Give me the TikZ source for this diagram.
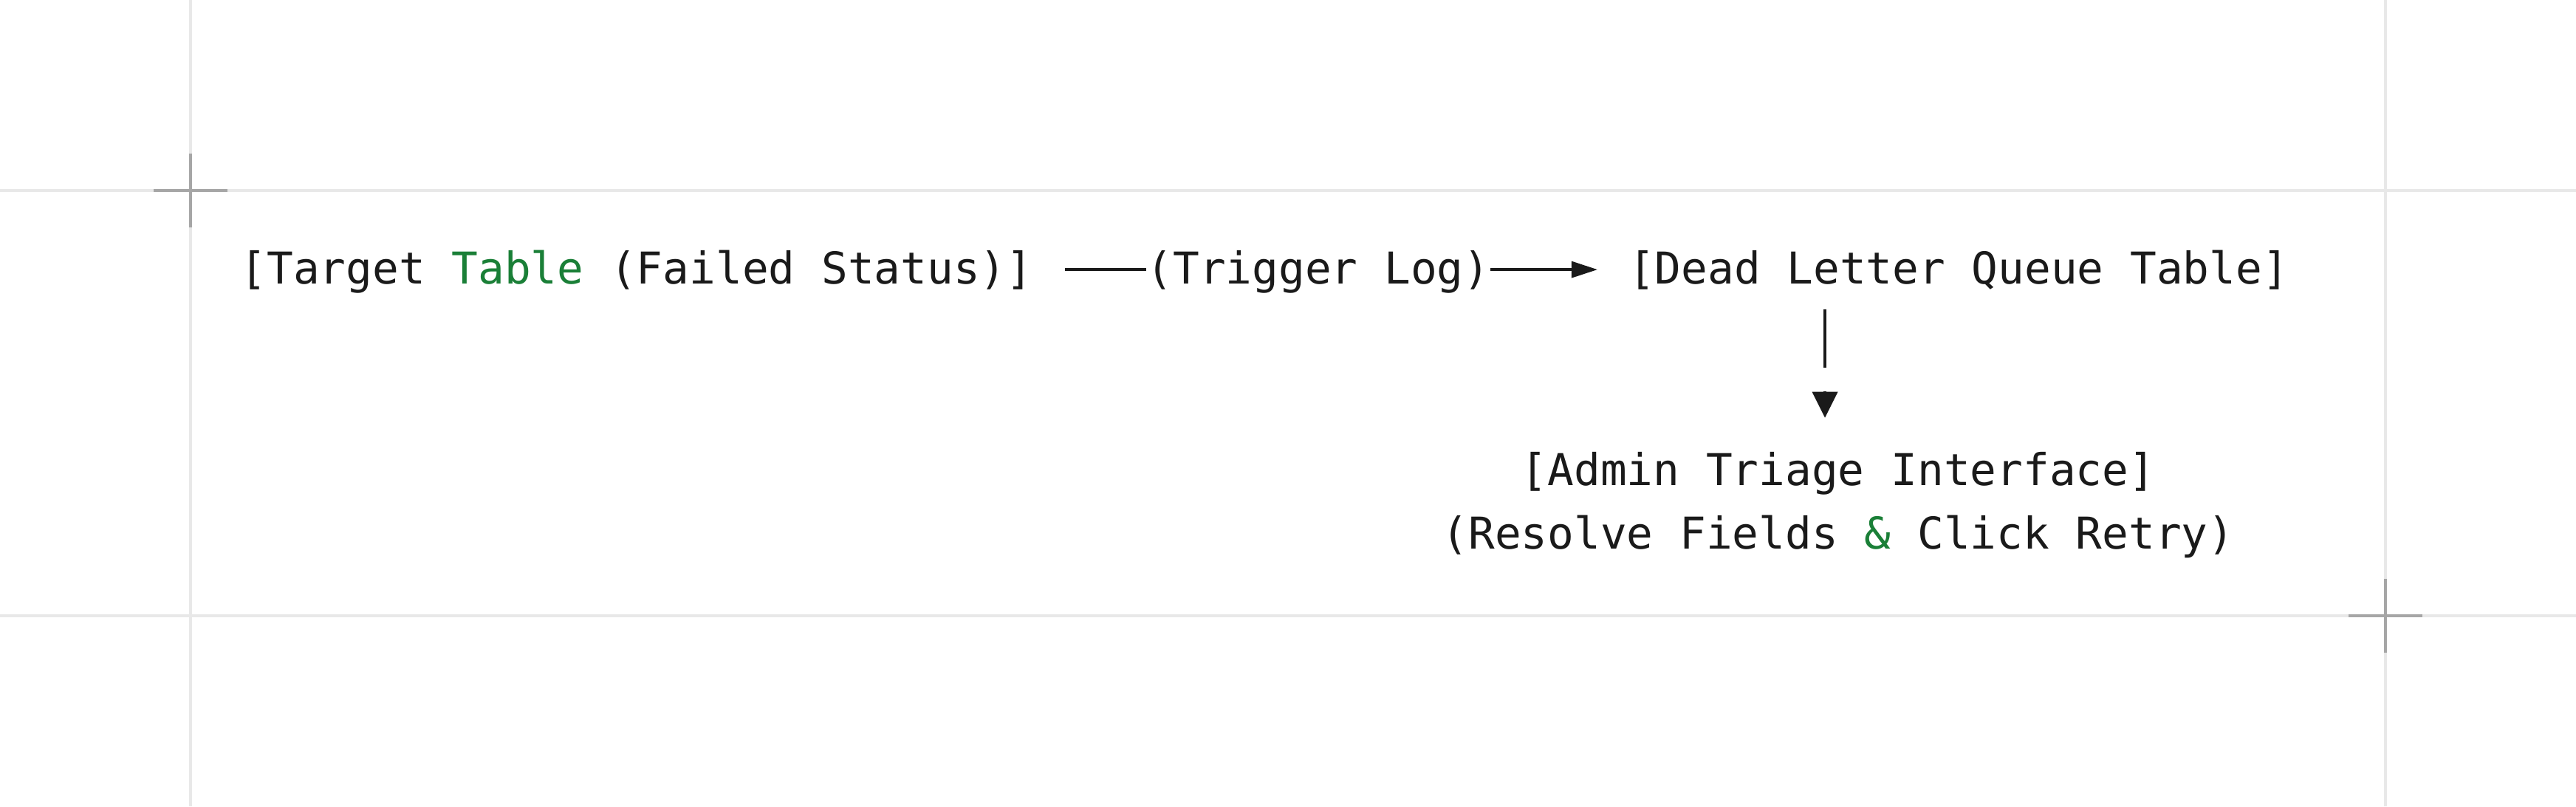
\documentclass[tikz,border=0pt]{standalone}
\usepackage{fontspec}
\usepackage{xcolor}
\usetikzlibrary{arrows.meta}
\newfontfamily\diagfont{DejaVu Sans Mono}

\definecolor{ink}{HTML}{1A1A1A}
\definecolor{accent}{HTML}{1A7F37}
\definecolor{guidegray}{HTML}{E8E8E8}
\definecolor{markgray}{HTML}{A6A6A6}

\tikzset{
  txt/.style={font=\diagfont\fontsize{16.9pt}{24.5pt}\selectfont, text=ink,
    inner sep=0pt, anchor=base, text height=4.56mm, text depth=0.78mm},
  wire/.style={draw=ink, line width=0.45mm},
  guide/.style={draw=guidegray, line width=0.4mm},
  cornermark/.style={draw=markgray, line width=0.4mm},
}

\begin{document}
\begin{tikzpicture}[x=0.1mm,y=-0.1mm]
  % Parameters (1 unit = 1 px of the page)
  \def\W{3488}
  \def\Hh{1092}
  \def\gl{258}
  \def\gr{3230}
  \def\gt{258}
  \def\gb{834}

  \useasboundingbox[fill=white] (0,0) rectangle (\W,\Hh);

  % Guide lines
  \draw[guide] (\gl,0) -- (\gl,\Hh);
  \draw[guide] (\gr,0) -- (\gr,\Hh);
  \draw[guide] (0,\gt) -- (\W,\gt);
  \draw[guide] (0,\gb) -- (\W,\gb);

  % Corner marks
  \draw[cornermark] (\gl-50,\gt) -- (\gl+50,\gt);
  \draw[cornermark] (\gl,\gt-50) -- (\gl,\gt+50);
  \draw[cornermark] (\gr-50,\gb) -- (\gr+50,\gb);
  \draw[cornermark] (\gr,\gb-50) -- (\gr,\gb+50);

  % Labels
  \node[txt] (src) at (862,384) {[Target \textcolor{accent}{Table} (Failed Status)]};
  \node[txt] (trig) at (1785,384) {(Trigger Log)};
  \node[txt] (dlq) at (2652,384) {[Dead Letter Queue Table]};
  \node[txt] (admin) at (2489,657) {[Admin Triage Interface]};
  \node[txt] (act) at (2489,743) {(Resolve Fields \textcolor{accent}{\&} Click Retry)};

  % Horizontal flow
  \draw[wire] ([xshift=4.3mm]src.east) -- (trig.west);
  \draw[wire, -{Triangle[length=3.5mm,width=2.3mm,line width=0pt]}]
    (trig.east) -- ([xshift=-4.15mm]dlq.west);

  % Drop to the admin interface
  \coordinate (vcol) at (2471,0);
  \coordinate (drop) at (dlq.south -| vcol);
  \coordinate (land) at (admin.north -| vcol);
  \draw[wire] ([yshift=-2.6mm]drop) -- ([yshift=-10.5mm]drop);
  \draw[wire, -{Triangle[length=3.5mm,width=3.5mm,line width=0pt]}]
    ([yshift=8.1mm]land) -- ([yshift=4.5mm]land);
\end{tikzpicture}
\end{document}
